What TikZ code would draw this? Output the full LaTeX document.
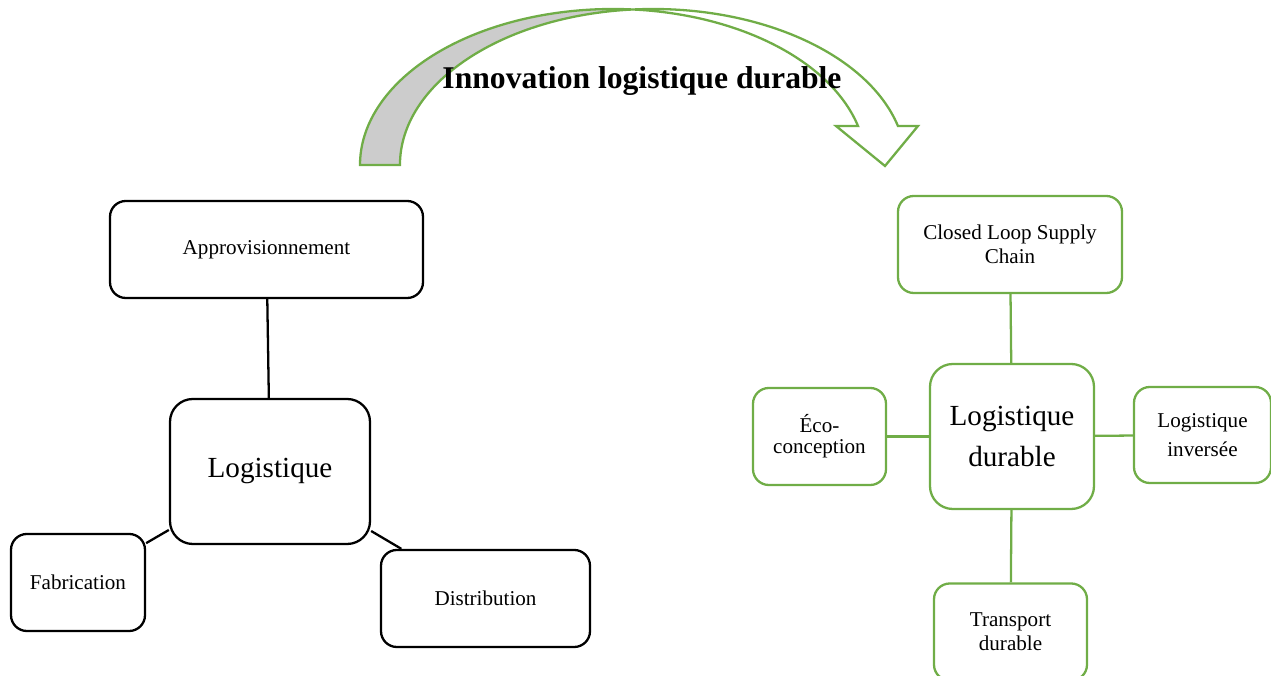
\documentclass[tikz,border=0pt]{standalone}
\usepackage{fontspec}
\setmainfont{Liberation Serif}
\definecolor{leafgreen}{HTML}{70AD47}

\begin{document}
\begin{tikzpicture}[
  every node/.style={align=center, inner sep=2pt, text=black},
  box/.style={rounded corners=9pt, line width=1.3pt, minimum height=1.94cm, font=\fontsize{12}{13.5}\selectfont},
  bigbox/.style={rounded corners=13pt, line width=1.3pt, minimum height=2.9cm, font=\fontsize{16.6}{23.8}\selectfont},
  link/.style={line width=1.3pt},
  band/.style={draw=leafgreen, line width=1.3pt, line join=miter}
]
  \useasboundingbox (0,0) rectangle (25.42,13.52);

  % curved arrow: back part first, then front part with the head
  \fill[black!20] (7.20,10.22) arc[start angle=180, end angle=85.47, x radius=5.06, y radius=3.12]
    arc[start angle=94.53, end angle=180, x radius=5.06, y radius=3.12] -- cycle;
  \draw[band] (7.20,10.22) arc[start angle=180, end angle=85.47, x radius=5.06, y radius=3.12]
    arc[start angle=94.53, end angle=180, x radius=5.06, y radius=3.12] -- cycle;
  \filldraw[band, fill=white] (12.66,13.33) arc[start angle=94.53, end angle=14.48, x radius=5.06, y radius=3.12]
    -- (18.36,11.00) -- (17.70,10.20) -- (16.72,11.00) -- (17.16,11.00)
    arc[start angle=14.48, end angle=85.47, x radius=5.06, y radius=3.12] -- cycle;
  \node[font=\fontsize{18}{20}\selectfont\bfseries] (title) at (12.84,11.90) {Innovation logistique durable};

  % left: classic logistics
  \node[box, draw=black, minimum width=6.26cm] (appro) at (5.33,8.53) {Approvisionnement};
  \node[bigbox, draw=black, minimum width=4.0cm] (logi) at (5.40,4.09) {Logistique};
  \node[box, draw=black, minimum width=2.68cm] (fabri) at (1.56,1.87) {Fabrication};
  \node[box, draw=black, minimum width=4.18cm] (distri) at (9.71,1.55) {Distribution};
  \draw[link] (appro) -- (logi);
  \draw[link] (logi) -- (fabri);
  \draw[link] (logi) -- (distri);

  % right: sustainable logistics
  \node[bigbox, draw=leafgreen, minimum width=3.28cm] (durable) at (20.24,4.79) {Logistique\\durable};
  \node[box, draw=leafgreen, minimum width=4.48cm] (closed) at (20.20,8.63) {Closed Loop Supply\\Chain};
  \node[box, draw=leafgreen, minimum width=2.66cm, font=\fontsize{12}{12}\selectfont] (eco) at (16.39,4.79) {Éco-\\conception};
  \node[box, draw=leafgreen, minimum width=2.74cm, minimum height=1.92cm, font=\fontsize{12}{16.4}\selectfont] (inverse) at (24.05,4.82) {Logistique\\inversée};
  \node[box, draw=leafgreen, minimum width=3.06cm] (transport) at (20.21,0.88) {Transport\\durable};
  \draw[link, leafgreen] (closed) -- (durable);
  \draw[link, leafgreen] (eco) -- (durable);
  \draw[link, leafgreen] (inverse) -- (durable);
  \draw[link, leafgreen] (transport) -- (durable);
\end{tikzpicture}
\end{document}
